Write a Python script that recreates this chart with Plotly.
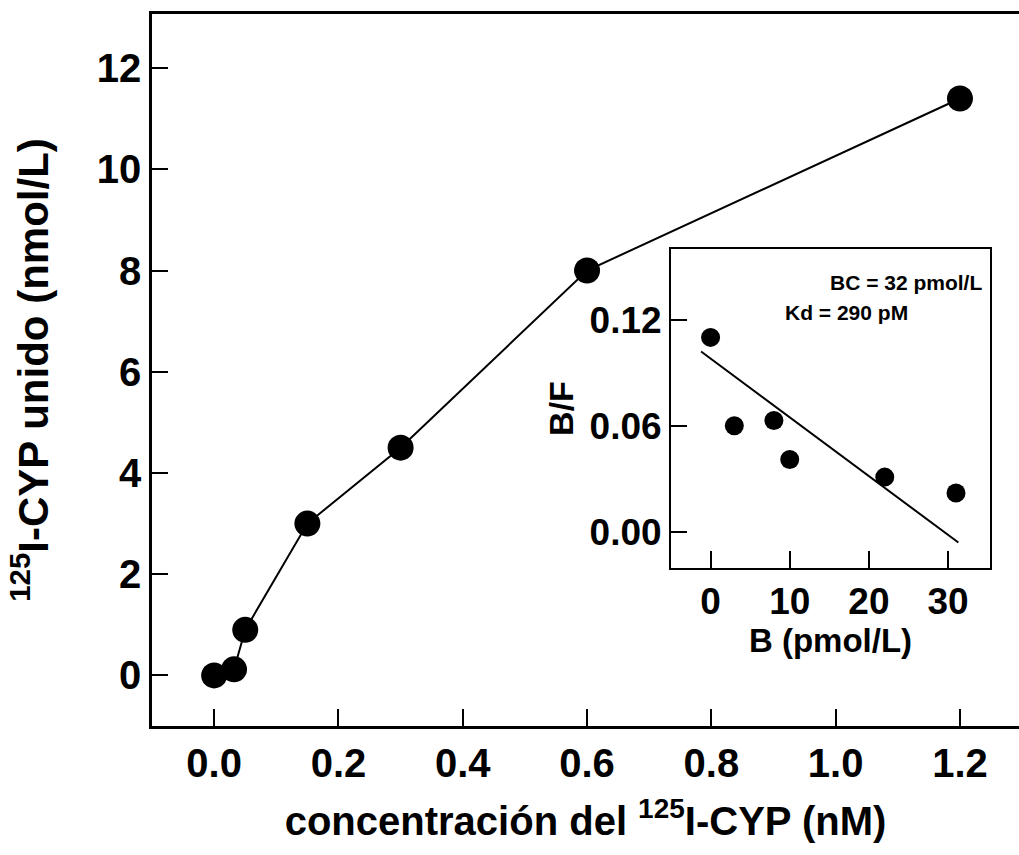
import plotly.graph_objects as go

# Main saturation curve
conc_nM = [0.0, 0.032, 0.05, 0.15, 0.30, 0.60, 1.20]
bound_nmolL = [0.0, 0.12, 0.9, 3.0, 4.5, 8.0, 11.4]

# Scatchard inset
B_pmolL = [0.0, 3.0, 8.0, 10.0, 22.0, 31.0]
BF = [0.110, 0.060, 0.063, 0.041, 0.031, 0.022]
fit_x = [-1.2, 31.3]
fit_y = [0.102, -0.006]

main_xticks = [0.0, 0.2, 0.4, 0.6, 0.8, 1.0, 1.2]
main_xticktext = ["0.0", "0.2", "0.4", "0.6", "0.8", "1.0", "1.2"]
main_yticks = [0, 2, 4, 6, 8, 10, 12]
inset_xticks = [0, 10, 20, 30]
inset_yticks = [0.0, 0.06, 0.12]
inset_yticktext = ["0.00", "0.06", "0.12"]

FONT = "Liberation Sans, Arial, sans-serif"

fig = go.Figure()
fig.add_trace(go.Scatter(x=conc_nM, y=bound_nmolL, mode="lines+markers",
                         line=dict(color="black", width=2),
                         marker=dict(color="black", size=26),
                         showlegend=False, cliponaxis=False))
fig.add_trace(go.Scatter(x=fit_x, y=fit_y, mode="lines",
                         line=dict(color="black", width=2),
                         xaxis="x2", yaxis="y2", showlegend=False))
fig.add_trace(go.Scatter(x=B_pmolL, y=BF, mode="markers",
                         marker=dict(color="black", size=19),
                         xaxis="x2", yaxis="y2", showlegend=False))

tick_font = dict(family=FONT, size=40, color="black", weight="bold")
title_font = dict(family=FONT, size=40, color="black", weight="bold")

fig.update_layout(
    width=1019, height=855,
    margin=dict(l=152, r=0, t=14, b=129),
    paper_bgcolor="white", plot_bgcolor="white",
    font=dict(family=FONT, color="black"),
    xaxis=dict(domain=[0, 1], range=[-0.1, 1.295], tickvals=main_xticks,
               ticktext=main_xticktext, ticks="inside", ticklen=17, tickwidth=2,
               tickcolor="black", showline=True, linecolor="black", linewidth=2.5,
               mirror=True, showgrid=False, zeroline=False, tickfont=tick_font,
               title=dict(text="concentración del <sup>125</sup>I-CYP (nM)",
                          font=title_font, standoff=24)),
    yaxis=dict(domain=[0, 1], range=[-1, 13.07], tickvals=main_yticks,
               ticks="inside", ticklen=16, tickwidth=2, tickcolor="black",
               showline=True, linecolor="black", linewidth=2.5, mirror=False,
               showgrid=False, zeroline=False, tickfont=tick_font,
               title=dict(text="<sup>125</sup>I-CYP unido (nmol/L)",
                          font=dict(family=FONT, size=42, color="black", weight="bold"),
                          standoff=36)),
    xaxis2=dict(domain=[0.5986, 0.9666], anchor="y2", range=[-5, 35.3],
                tickvals=inset_xticks, ticks="inside", ticklen=17, tickwidth=2,
                tickcolor="black", showline=True, linecolor="black", linewidth=2,
                mirror=True, showgrid=False, zeroline=False,
                tickfont=dict(family=FONT, size=37, color="black", weight="bold"),
                title=dict(text="B (pmol/L)", standoff=0,
                           font=dict(family=FONT, size=33, color="black", weight="bold"))),
    yaxis2=dict(domain=[0.2219, 0.67], anchor="x2", range=[-0.0204, 0.16],
                tickvals=inset_yticks, ticktext=inset_yticktext, ticks="inside",
                ticklen=16, tickwidth=2, tickcolor="black", showline=True,
                linecolor="black", linewidth=2, mirror=True, showgrid=False,
                zeroline=False,
                tickfont=dict(family=FONT, size=37, color="black", weight="bold"),
                title=dict(text="B/F", standoff=6,
                           font=dict(family=FONT, size=34, color="black", weight="bold"))),
    annotations=[
        dict(text="BC = 32 pmol/L", xref="x2", yref="y2", x=34.5, y=0.1412,
             xanchor="right", yanchor="middle", showarrow=False,
             font=dict(family=FONT, size=21, color="black", weight="bold")),
        dict(text="Kd = 290 pM", xref="x2", yref="y2", x=9.2, y=0.1242,
             xanchor="left", yanchor="middle", showarrow=False,
             font=dict(family=FONT, size=21, color="black", weight="bold")),
    ],
)

fig.write_html("out.html")
